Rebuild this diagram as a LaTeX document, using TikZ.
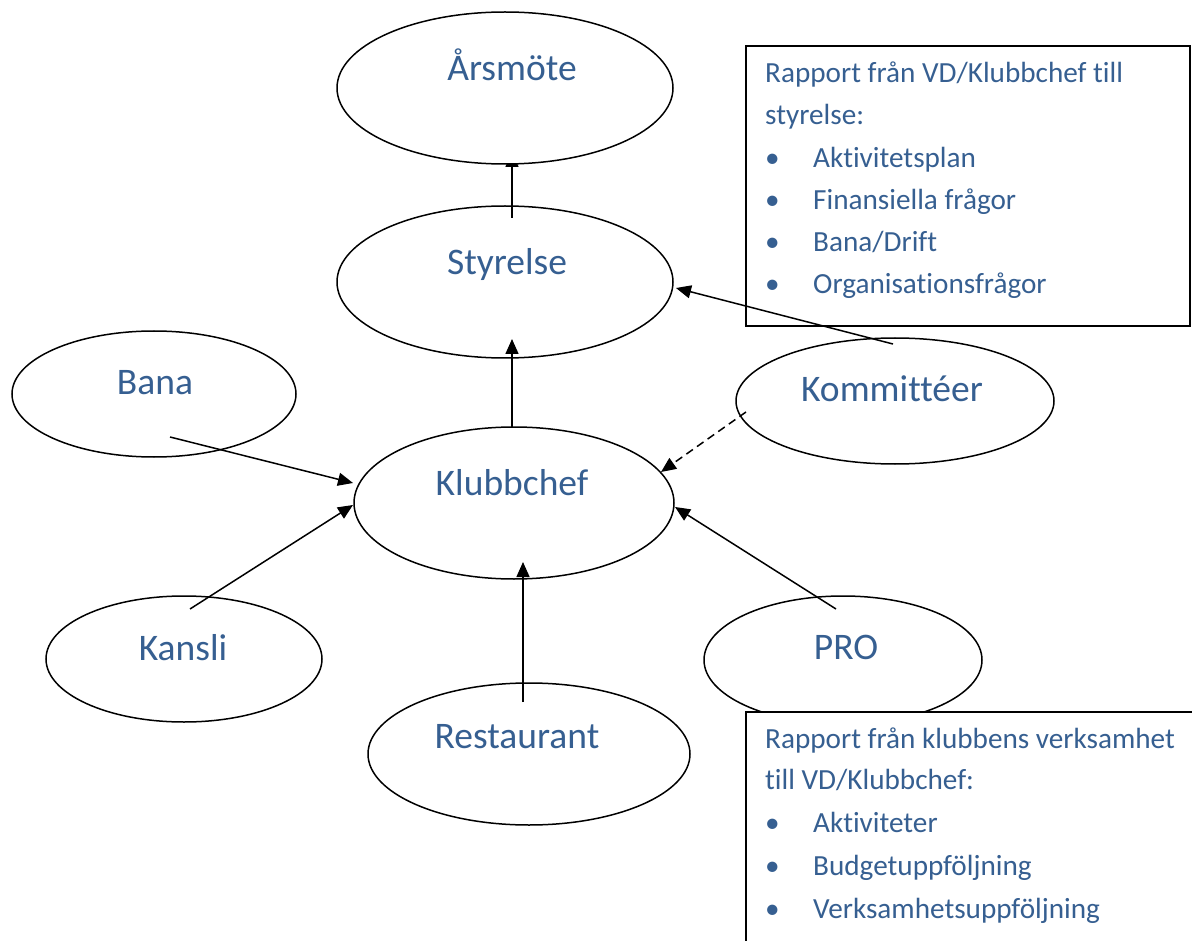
\documentclass[tikz,border=0pt]{standalone}
\usepackage{fontspec}
\setmainfont{Carlito}[Ligatures=NoCommon]
\usetikzlibrary{shapes.geometric,arrows.meta,backgrounds}
\definecolor{txtblue}{RGB}{54,95,145}
\tikzset{
  oval/.style={ellipse, draw, line width=1.5pt, inner sep=0pt},
  lbl/.style={font=\fontsize{37.5}{44}\selectfont, text=txtblue, anchor=base, inner sep=0pt},
  boxtxt/.style={font=\fontsize{29.2}{35}\selectfont, text=txtblue, anchor=base west, inner sep=0pt},
  conn/.style={line width=1.5pt, -{Triangle[length=15pt,width=13pt]}},
  dconn/.style={conn, dash pattern=on 8pt off 5pt},
  frame/.style={line width=1.5pt}
}
\newcommand{\bul}[1]{\makebox[48pt][l]{•}#1}
\begin{document}
\begin{tikzpicture}[x=1pt,y=-1pt]
\useasboundingbox (0,0) rectangle (1192,941);
% ellipses
\node[oval, fill=white, minimum width=336pt, minimum height=152pt] (ars) at (505,88) {};
\node[oval, minimum width=336pt, minimum height=152pt] (sty) at (505,282) {};
\node[oval, minimum width=320pt, minimum height=152pt] (klub) at (514,503) {};
\node[oval, minimum width=284pt, minimum height=126pt] (bana) at (154,394) {};
\node[oval, minimum width=318pt, minimum height=126pt] (kom) at (895,401) {};
\node[oval, minimum width=276pt, minimum height=126pt] (kan) at (184,659) {};
\node[oval, minimum width=278pt, minimum height=128pt] (pro) at (843,660) {};
\node[oval, minimum width=322pt, minimum height=142pt] (res) at (529,754) {};
% labels
\node[lbl] (arsT) at (512,81) {Årsmöte};
\node[lbl] (styT) at (507,275) {Styrelse};
\node[lbl] (klubT) at (512,495) {Klubbchef};
\node[lbl] (banaT) at (155,395) {Bana};
\node[lbl] (komT) at (892,401) {Kommittéer};
\node[lbl] (kanT) at (183,660) {Kansli};
\node[lbl] (proT) at (846,659) {PRO};
\node[lbl] (resT) at (517,748) {Restaurant};
% arrow to Arsmote, mostly hidden behind its white ellipse
\begin{pgfonlayer}{background}
\draw[conn] ([shift={(7,-64)}]sty.center) -- ([shift={(7,64)}]ars.center);
\end{pgfonlayer}
% top box
\draw[frame] (746,46) rectangle (1190,326);
\node[boxtxt] (t1) at (765,83) {Rapport från VD/Klubbchef till};
\node[boxtxt] (t2) at (765,125) {styrelse:};
\node[boxtxt] (t3) at (765,167.5) {\bul{Aktivitetsplan}};
\node[boxtxt] (t4) at (765,209.5) {\bul{Finansiella frågor}};
\node[boxtxt] (t5) at (765,252) {\bul{Bana/Drift}};
\node[boxtxt] (t6) at (765,294) {\bul{Organisationsfrågor}};
% bottom box (covers bottom of PRO ellipse)
\fill[white] (746,712) rectangle (1192,941);
\draw[frame] (746,941) -- (746,712) -- (1192,712);
\node[boxtxt] (b1) at (765,748) {Rapport från klubbens verksamhet};
\node[boxtxt] (b2) at (765,789) {till VD/Klubbchef:};
\node[boxtxt] (b3) at (765,832) {\bul{Aktiviteter}};
\node[boxtxt] (b4) at (765,875) {\bul{Budgetuppföljning}};
\node[boxtxt] (b5) at (765,918) {\bul{Verksamhetsuppföljning}};
% connectors
\draw[conn] ([shift={(-2,-76)}]klub.center) -- ([shift={(7,57)}]sty.center);
\draw[conn] ([shift={(-2,-57)}]kom.center) -- ([shift={(171,6)}]sty.center);
\draw[conn] ([shift={(16,43)}]bana.center) -- ([shift={(-161,-20)}]klub.center);
\draw[conn] ([shift={(6,-50)}]kan.center) -- ([shift={(-161,2)}]klub.center);
\draw[conn] ([shift={(-6,-52)}]res.center) -- ([shift={(9,59)}]klub.center);
\draw[conn] ([shift={(-7,-51)}]pro.center) -- ([shift={(161,4)}]klub.center);
\draw[dconn] ([shift={(-149,11)}]kom.center) -- ([shift={(147,-31)}]klub.center);
\end{tikzpicture}
\end{document}
